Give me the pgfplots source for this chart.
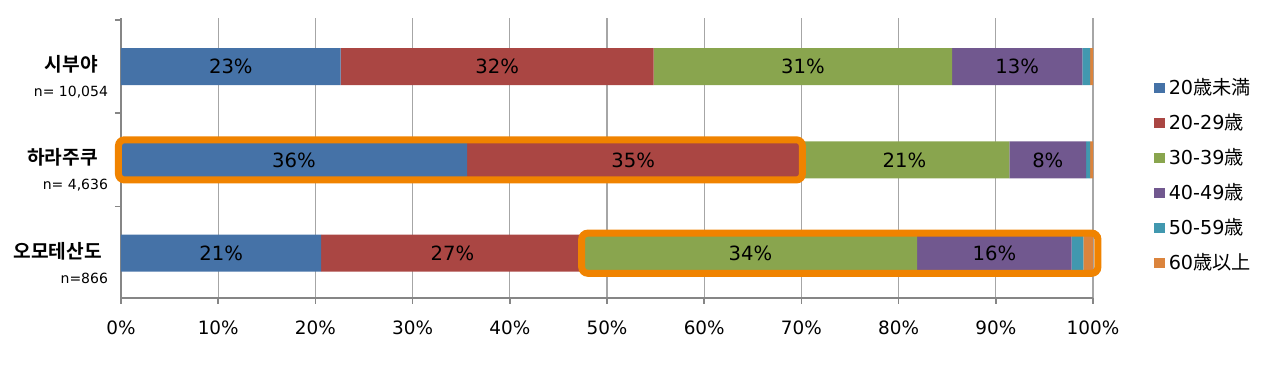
\documentclass[border=0pt]{standalone}
\usepackage{fontspec}
\usepackage{pgfplots}
\pgfplotsset{compat=1.18}
\usepackage{pgfplotstable}
\setmainfont{DejaVu Sans}
\newfontfamily\jp{Noto Sans CJK JP}
\newfontfamily\krb{Noto Sans CJK KR Bold}
\newcommand{\J}[1]{{\jp #1}}
\definecolor{c1}{HTML}{4572A7}
\definecolor{c2}{HTML}{AA4643}
\definecolor{c3}{HTML}{89A54E}
\definecolor{c4}{HTML}{71588F}
\definecolor{c5}{HTML}{4198AF}
\definecolor{c6}{HTML}{DB843D}
\definecolor{hl}{HTML}{F08300}
\definecolor{axgray}{HTML}{868686}
\definecolor{gridgray}{HTML}{A6A6A6}

\pgfplotstableread{
y u20 a20 a30 a40 a50 a60
0 20.6 27.0 34.3 15.9 1.2 1.0
1 35.6 34.2 21.6 7.9 0.4 0.3
2 22.6 32.2 30.7 13.4 0.8 0.3
}\agedata

\pgfplotstableread{
x y lab
11.3 2 23
38.7 2 32
70.15 2 31
92.2 2 13
17.8 1 36
52.7 1 35
80.6 1 21
95.35 1 8
10.3 0 21
34.1 0 27
64.75 0 34
89.85 0 16
}\labeltab

\begin{document}
\begin{tikzpicture}
\path[use as bounding box] (-60.5bp,-35.5bp) rectangle (579.5bp,149bp);
\begin{axis}[
  at={(0,0)}, anchor=south west,
  scale only axis, width=486bp, height=140bp,
  xbar stacked, bar width=18.5bp,
  xmin=0, xmax=100, ymin=-0.48, ymax=2.52,
  xtick={0,10,...,100},
  xticklabels={0\%,10\%,20\%,30\%,40\%,50\%,60\%,70\%,80\%,90\%,100\%},
  xticklabel style={font=\fontsize{9.2bp}{10bp}\selectfont, text=black, yshift=-5bp},
  xmajorgrids, grid style={draw=gridgray, line width=0.6bp},
  axis x line*=bottom, axis y line*=left,
  axis line style={-, draw=axgray, line width=0.75bp},
  tick align=outside, major tick length=3bp,
  tick style={draw=axgray, line width=0.75bp},
  ytick={-0.5,0.5,1.5,2.5}, yticklabels={},
  extra y ticks={0,1,2},
  extra y tick labels={
    {{\krb 오모테산도}\kern3bp\\{\fontsize{7bp}{12bp}\selectfont n=866}},
    {{\krb 하라주쿠}\kern5bp\\{\fontsize{7bp}{12bp}\selectfont n= 4,636}},
    {{\krb 시부야}\kern5bp\\{\fontsize{7bp}{12bp}\selectfont n= 10,054}}},
  extra y tick style={major tick length=0pt,
    yticklabel style={align=right, font=\fontsize{9.6bp}{12.5bp}\selectfont, yshift=-5bp, xshift=-3bp}},
  clip=false,
  legend style={at={(1.0566,0.815)}, anchor=north west, draw=none, fill=none,
    font=\fontsize{9.6bp}{11bp}\selectfont, row sep=4bp,
    /tikz/every even column/.append style={column sep=3bp}},
  legend cell align=left,
  legend image code/.code={\fill (0bp,-2.6bp) rectangle (5.2bp,2.6bp);},
]
\addplot[fill=c1, draw=none] table[x=u20, y=y] {\agedata};
\addlegendentry{20\J{歳未満}}
\addplot[fill=c2, draw=none] table[x=a20, y=y] {\agedata};
\addlegendentry{20-29\J{歳}}
\addplot[fill=c3, draw=none] table[x=a30, y=y] {\agedata};
\addlegendentry{30-39\J{歳}}
\addplot[fill=c4, draw=none] table[x=a40, y=y] {\agedata};
\addlegendentry{40-49\J{歳}}
\addplot[fill=c5, draw=none] table[x=a50, y=y] {\agedata};
\addlegendentry{50-59\J{歳}}
\addplot[fill=c6, draw=none] table[x=a60, y=y] {\agedata};
\addlegendentry{60\J{歳以上}}
\end{axis}
\begin{axis}[
  at={(0,0)}, anchor=south west,
  scale only axis, width=486bp, height=140bp,
  xmin=0, xmax=100, ymin=-0.48, ymax=2.52,
  hide axis, clip=false,
]
\addplot[only marks, mark=*, mark size=0pt, mark options={draw=none, fill=none},
  point meta=explicit symbolic,
  nodes near coords={\pgfplotspointmeta\%},
  every node near coord/.append style={anchor=center, text=black,
    font=\fontsize{9.8bp}{11bp}\selectfont}]
  table[x=x, y=y, meta=lab] {\labeltab};
\draw[hl, line width=3.5bp, rounded corners=3bp] (axis cs:-0.26,0.785) rectangle (axis cs:70.1,1.215);
\draw[hl, line width=3.5bp, rounded corners=3bp] (axis cs:47.4,-0.215) rectangle (axis cs:100.5,0.215);
\end{axis}
\end{tikzpicture}
\end{document}
